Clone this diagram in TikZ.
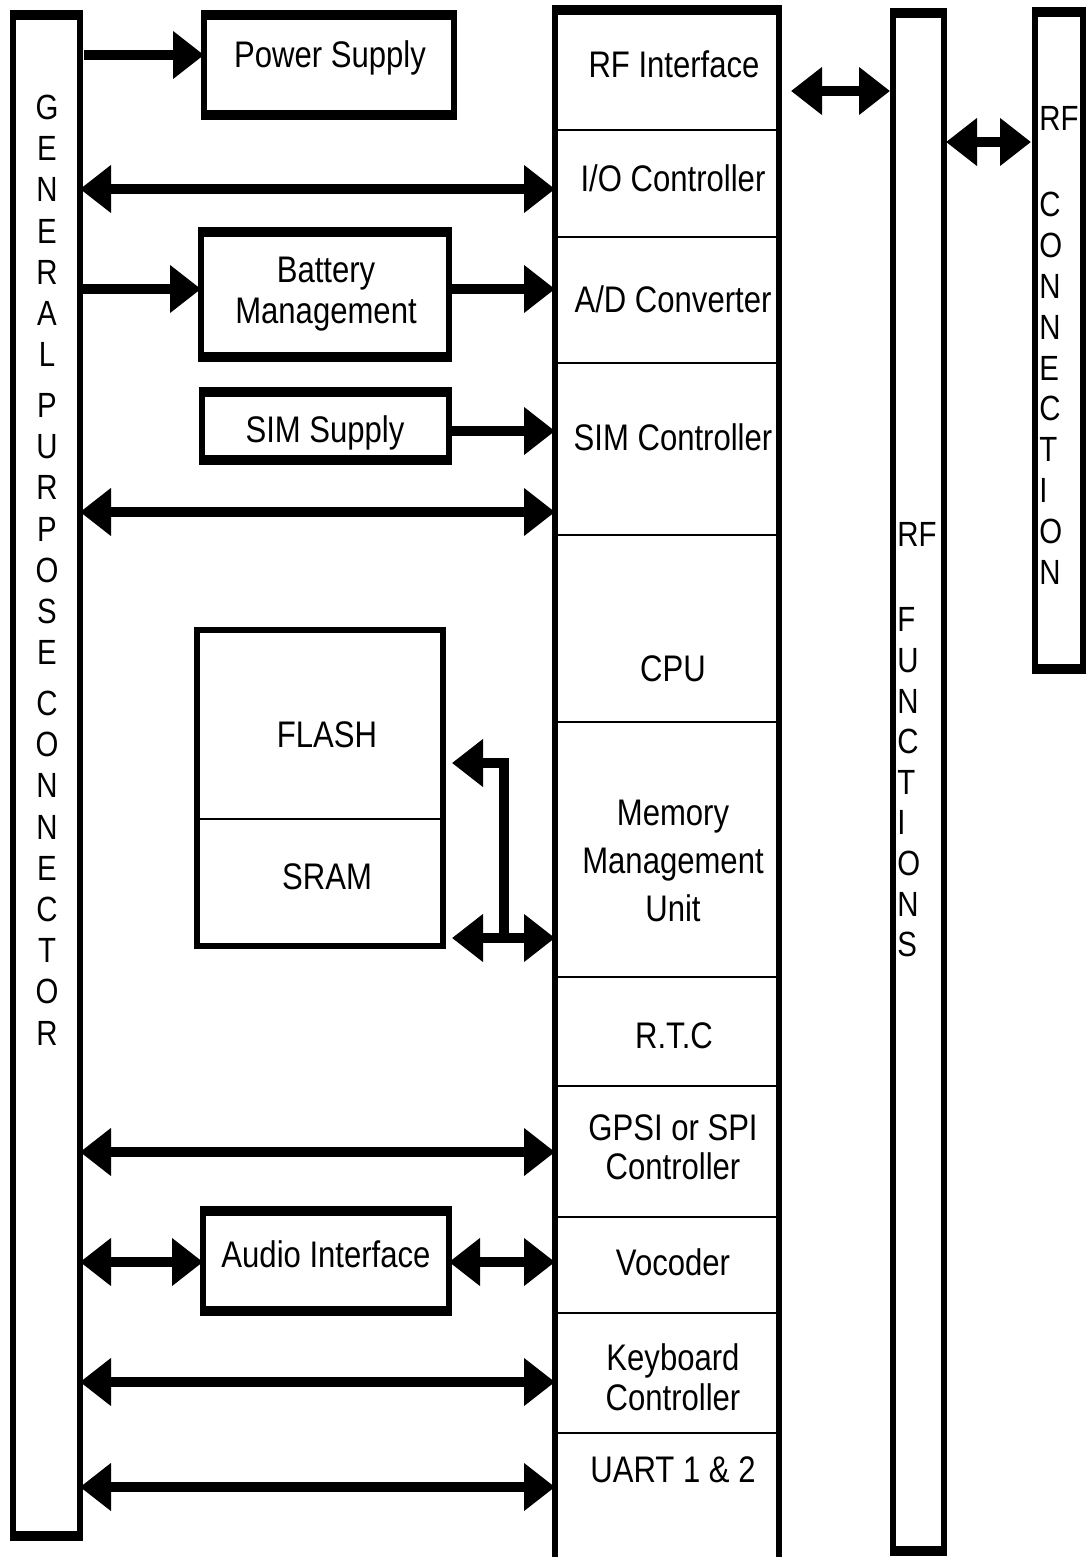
\documentclass[tikz,border=0pt]{standalone}
\usepackage{fontspec}
\setmainfont{Liberation Sans}[FakeStretch=0.84]
\usetikzlibrary{arrows.meta,fit}

\tikzset{
  blk/.style={draw, line width=2.75pt, inner sep=0pt, outer sep=0pt},
  lbl/.style={font=\fontsize{18.5}{20.5}\selectfont, inner sep=0pt, anchor=base, align=center},
  vlbl/.style={font=\fontsize{17.5}{20.6}\selectfont, inner sep=0pt, align=center},
  divider/.style={line width=1.2pt},
  Head/.tip={Triangle[length=15.5pt,width=23pt]},
  bus/.style={line width=5pt},
  one/.style={bus, -Head},
  two/.style={bus, Head-Head},
}

% heavier top and bottom edges of a block
\newcommand\capedges[1]{%
  \draw[line width=5pt]
    ([xshift=-1.375pt]#1.north west) -- ([xshift=1.375pt]#1.north east)
    ([xshift=-1.375pt]#1.south west) -- ([xshift=1.375pt]#1.south east);}

\begin{document}
\begin{tikzpicture}[x=0.5pt,y=-0.5pt]
\useasboundingbox (0,0) rectangle (1087,1557);

% blocks
\node[blk, fit={(13,15) (80,1536)}] (gpc) {};
\node[blk, fit={(204,15) (454,115)}] (ps) {};
\node[blk, fit={(201,232) (449,357)}] (bat) {};
\node[blk, fit={(202,392) (449,460)}] (sims) {};
\node[blk, line width=3pt, fit={(197,630) (443,946)}] (mem) {};
\node[blk, fit={(203,1211) (449,1311)}] (aud) {};
\node[blk, fit={(555,10) (779,1580)}] (chip) {};
\node[blk, fit={(893,13) (944,1551)}] (rff) {};
\node[blk, fit={(1035,12) (1083,669)}] (rfc) {};
\foreach \b in {gpc,ps,bat,sims,aud,chip,rff,rfc} {\capedges{\b}}

% sections of the chip column and of the memory block
\foreach \y in {130,237,363,535,722,977,1086,1217,1313,1433}
  \draw[divider] (chip.west |- 0,\y) -- (chip.east |- 0,\y);
\draw[divider] (mem.west |- 0,819) -- (mem.east |- 0,819);

% vertical titles
\node[vlbl, anchor=center] (gpc-t) at (47,570)
  {G\\E\\N\\E\\R\\A\\L\\[4.8pt]P\\U\\R\\P\\O\\S\\E\\[4.8pt]C\\O\\N\\N\\E\\C\\T\\O\\R};
\node[vlbl, align=left, anchor=west, font=\fontsize{17.5}{20.3}\selectfont] (rff-t) at (897,740)
  {RF\\[22.2pt]F\\U\\N\\C\\T\\I\\O\\N\\S};
\node[vlbl, align=left, anchor=west, font=\fontsize{17.5}{20.4}\selectfont] (rfc-t) at (1039,345)
  {RF\\[23pt]C\\O\\N\\N\\E\\C\\T\\I\\O\\N};

% block labels
\node[lbl] (ps-t)   at (330,68)  {Power Supply};
\node[lbl] (bat-t)  at (326,323) {Battery\\Management};
\node[lbl] (sims-t) at (325,442) {SIM Supply};
\node[lbl] (fl-t)   at (327,747) {FLASH};
\node[lbl] (sr-t)   at (327,889) {SRAM};
\node[lbl] (aud-t)  at (326,1267) {Audio Interface};

% chip section labels
\node[lbl] (rfi)  at (674,78)   {RF Interface};
\node[lbl] (ioc)  at (673,192)  {I/O Controller};
\node[lbl] (adc)  at (673,313)  {A/D Converter};
\node[lbl] (simc) at (673,450)  {SIM Controller};
\node[lbl] (cpu)  at (673,681)  {CPU};
\node[lbl, font=\fontsize{18.5}{24}\selectfont] (mmu) at (673,921) {Memory\\Management\\Unit};
\node[lbl] (rtc)  at (674,1048) {R.T.C};
\node[lbl, font=\fontsize{18.5}{19.5}\selectfont] (spi) at (673,1179) {GPSI or SPI\\Controller};
\node[lbl] (voc)  at (673,1275) {Vocoder};
\node[lbl, font=\fontsize{18.5}{20}\selectfont] (kbd) at (673,1410) {Keyboard\\Controller};
\node[lbl] (uart) at (673,1482) {UART 1 \& 2};

% rows of the connectors
\coordinate (yPS) at (0,55);
\coordinate (yIO) at (0,189);
\coordinate (yBT) at (0,289);
\coordinate (ySM) at (0,431);
\coordinate (yGP) at (0,512);
\coordinate (yFL) at (0,763);
\coordinate (yMM) at (0,938);
\coordinate (ySP) at (0,1152);
\coordinate (yAU) at (0,1262);
\coordinate (yKB) at (0,1382);
\coordinate (yUA) at (0,1487);
\coordinate (yR1) at (0,91);
\coordinate (yR2) at (0,142);
\coordinate (xJ)  at (504,0);

% connectors
\draw[one, shorten <=2pt] (gpc.east |- yPS) -- (ps.west |- yPS);
\draw[two] (gpc.east |- yIO) -- (chip.west |- yIO);
\draw[one] (gpc.east |- yBT) -- (bat.west |- yBT);
\draw[one] (bat.east |- yBT) -- (chip.west |- yBT);
\draw[one] (sims.east |- ySM) -- (chip.west |- ySM);
\draw[two] (gpc.east |- yGP) -- (chip.west |- yGP);
\draw[two, shorten <=4.5pt] (mem.east |- yMM) -- (chip.west |- yMM);
\draw[one, shorten >=4.5pt] (xJ |- yMM) |- (mem.east |- yFL);
\draw[two] (gpc.east |- ySP) -- (chip.west |- ySP);
\draw[two] (gpc.east |- yAU) -- (aud.west |- yAU);
\draw[two] (aud.east |- yAU) -- (chip.west |- yAU);
\draw[two] (gpc.east |- yKB) -- (chip.west |- yKB);
\draw[two] (gpc.east |- yUA) -- (chip.west |- yUA);
\draw[two, shorten <=6pt, shorten >=1.5pt] (chip.east |- yR1) -- (rff.west |- yR1);
\draw[two, shorten <=1pt, shorten >=2pt] (rff.east |- yR2) -- (rfc.west |- yR2);
\end{tikzpicture}
\end{document}
